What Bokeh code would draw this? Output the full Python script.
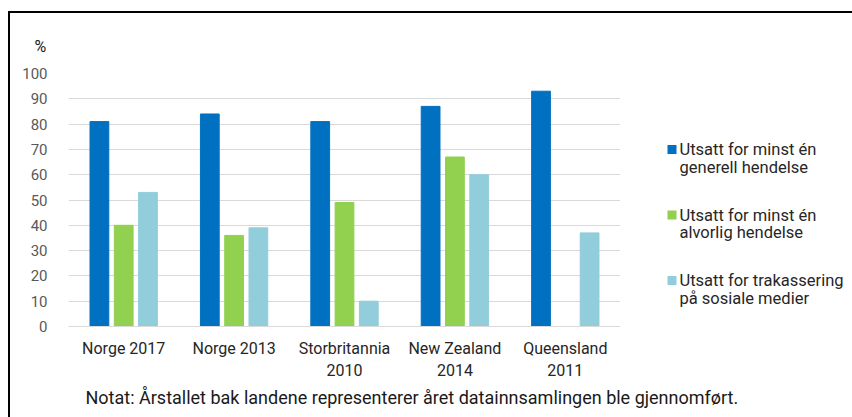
from bokeh.plotting import figure
from bokeh.layouts import row, column
from bokeh.models import ColumnDataSource, Title, FixedTicker, InlineStyleSheet, Range1d
from bokeh.core.properties import value
from bokeh.transform import dodge
from bokeh.embed import file_html
from bokeh.resources import INLINE

categories = ["Norge 2017", "Norge 2013", "Storbritannia\n2010", "New Zealand\n2014", "Queensland\n2011"]
generell = [81, 84, 81, 87, 93]
alvorlig = [40, 36, 49, 67, float("nan")]
sosiale = [53, 39, 10, 60, 37]
series_labels = ["Utsatt for minst én\ngenerell hendelse",
                 "Utsatt for minst én\nalvorlig hendelse",
                 "Utsatt for trakassering\npå sosiale medier"]
colors = ["#0070C0", "#92D050", "#92CDDC"]
y_ticks = list(range(0, 101, 10))
note = "Notat: Årstallet bak landene representerer året datainnsamlingen ble gjennomført."

FONT = "Roboto"
W, H = 852, 417
MAIN_W, MAIN_H = 620, 384
F_LEFT, F_TOP, F_BOTTOM = 68, 73, 326

src = ColumnDataSource(dict(cat=categories, g=generell, a=alvorlig, s=sosiale))

p = figure(width=MAIN_W, height=MAIN_H, x_range=categories, y_range=(0, 100),
           output_backend="svg", toolbar_location=None,
           min_border_left=F_LEFT, min_border_right=0, min_border_top=F_TOP,
           min_border_bottom=MAIN_H - F_BOTTOM)
p.outline_line_color = None

p.vbar(x=dodge("cat", -0.22, range=p.x_range), top="g", width=0.17, source=src, color=colors[0])
p.vbar(x=dodge("cat", 0.0, range=p.x_range), top="a", width=0.17, source=src, color=colors[1])
p.vbar(x=dodge("cat", 0.22, range=p.x_range), top="s", width=0.17, source=src, color=colors[2])

p.xgrid.grid_line_color = None
p.ygrid.grid_line_color = "#D9D9D9"
p.ygrid.ticker = FixedTicker(ticks=y_ticks)

p.yaxis.ticker = FixedTicker(ticks=y_ticks)
p.yaxis.axis_line_color = None
p.yaxis.major_tick_line_color = None
p.yaxis.minor_tick_line_color = None
p.yaxis.major_label_text_font = FONT
p.yaxis.major_label_text_font_size = "15px"
p.yaxis.major_label_text_color = "#595959"
p.yaxis.major_label_standoff = 15

p.xaxis.axis_line_color = "#D9D9D9"
p.xaxis.major_tick_line_color = None
p.xaxis.minor_tick_line_color = None
p.xaxis.major_label_text_font = FONT
p.xaxis.major_label_text_font_size = "16px"
p.xaxis.major_label_text_color = "#262626"
p.xaxis.major_label_standoff = 6

p.add_layout(Title(text="%", align="left", offset=-34, standoff=35, text_font=FONT,
                   text_font_size="16px", text_font_style="normal", text_color="#1a1a1a"), "above")

# legend panel: a figure whose data coordinates equal page pixels
leg = figure(width=W - MAIN_W, height=MAIN_H,
             x_range=Range1d(MAIN_W, W), y_range=Range1d(F_BOTTOM, F_TOP),
             output_backend="svg", toolbar_location=None,
             min_border_left=0, min_border_right=0, min_border_top=F_TOP,
             min_border_bottom=MAIN_H - F_BOTTOM)
leg.axis.visible = False
leg.grid.visible = False
leg.outline_line_color = None

key_x, text_x = 671.5, 679
first_y, step, line_gap = 149, 65.5, 17.5
key_ys, lx, ly, lt = [], [], [], []
for i, lab in enumerate(series_labels):
    y0 = first_y + i * step
    key_ys.append(y0)
    for j, line in enumerate(lab.split("\n")):
        lx.append(text_x)
        ly.append(y0 + j * line_gap)
        lt.append(line)
leg.scatter(x=[key_x] * len(key_ys), y=key_ys, marker="square", size=9, color=colors, line_color=None)
leg.text(x=lx, y=ly, text=lt, text_font=value(FONT), text_font_size="16.5px",
         text_color="#262626", text_baseline="middle", text_align="left")

# note strip below
NOTE_H = H - MAIN_H
nf = figure(width=W, height=NOTE_H, x_range=Range1d(F_LEFT, W), y_range=Range1d(H, MAIN_H),
            output_backend="svg", toolbar_location=None,
            min_border_left=F_LEFT, min_border_right=0, min_border_top=0, min_border_bottom=0)
nf.axis.visible = False
nf.grid.visible = False
nf.outline_line_color = None
nf.text(x=[85], y=[397], text=[note], text_font=value(FONT), text_font_size="18px",
        text_color="#1a1a1a", text_baseline="middle", text_align="left")

frame_css = InlineStyleSheet(css=""":host { position: relative; }
:host::after {
  content: ''; position: absolute; left: 8px; top: 11px; right: 0; bottom: 0;
  border-left: 2px solid black; border-top: 2px solid black; pointer-events: none;
}""")

layout = column(row(p, leg, spacing=0), nf, spacing=0, stylesheets=[frame_css])

open("out.html", "w").write(file_html(layout, INLINE))
